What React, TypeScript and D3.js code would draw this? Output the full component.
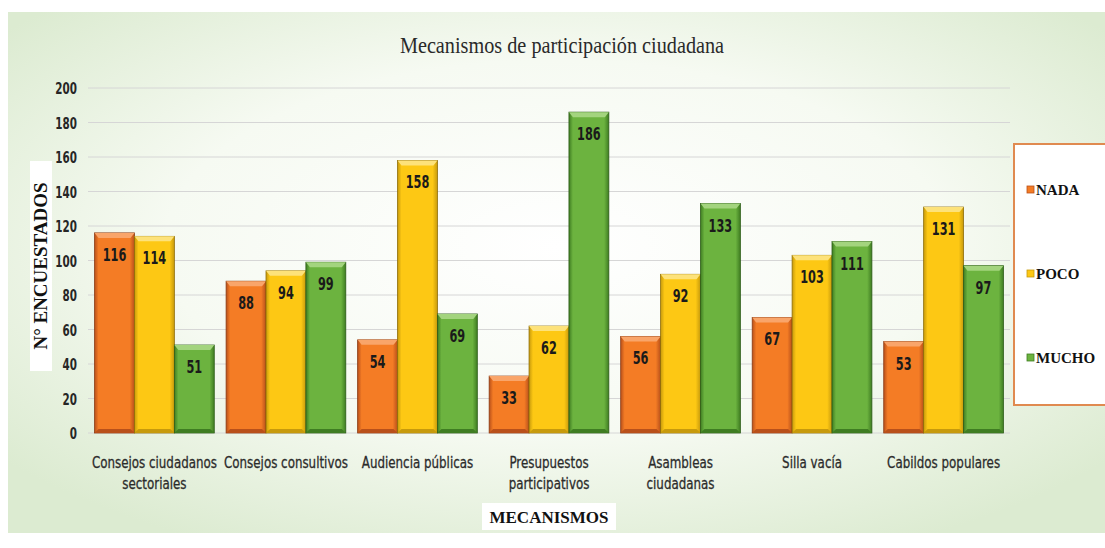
import * as d3 from "d3";

const categories = [
  ["Consejos ciudadanos", "sectoriales"],
  ["Consejos consultivos"],
  ["Audiencia públicas"],
  ["Presupuestos", "participativos"],
  ["Asambleas", "ciudadanas"],
  ["Silla vacía"],
  ["Cabildos populares"],
];
const seriesNames = ["NADA", "POCO", "MUCHO"];
const nada = [116, 88, 54, 33, 56, 67, 53];
const poco = [114, 94, 158, 62, 92, 103, 131];
const mucho = [51, 99, 69, 186, 133, 111, 97];
const yTicks = [0, 20, 40, 60, 80, 100, 120, 140, 160, 180, 200];

const W = 1105;
const H = 548;
const PLOT = { left: 88, right: 1010, top: 88, bottom: 433 };

const COLORS = [
  { base: "#f47c25", light: "#f9a56a", dark: "#b9501a", edge: "#8a3a12" },
  { base: "#fdc814", light: "#fde27a", dark: "#c79a0c", edge: "#8f6e08" },
  { base: "#6cb33f", light: "#a3d47e", dark: "#3f7d22", edge: "#2d5d18" },
];

const condensed = "'DejaVu Sans Condensed', 'DejaVu Sans', sans-serif";
const serif = "'Liberation Serif', 'DejaVu Serif', serif";

// narrow text: draws at (x, y) and squeezes horizontally
function Narrow({ x, y, sx, anchor = "middle", children, ...rest }: any) {
  return (
    <text
      transform={`translate(${x},${y}) scale(${sx},1)`}
      textAnchor={anchor}
      {...rest}
    >
      {children}
    </text>
  );
}

export default function App() {
  const keys = categories.map((c) => c.join(" "));
  const values = [nada, poco, mucho];

  const x0 = d3
    .scaleBand<string>()
    .domain(keys)
    .range([PLOT.left, PLOT.right])
    .paddingInner(0.09)
    .paddingOuter(0.05);
  const x1 = d3
    .scaleBand<number>()
    .domain([0, 1, 2])
    .range([0, x0.bandwidth()]);
  const y = d3.scaleLinear().domain([0, 200]).range([PLOT.bottom, PLOT.top]);

  return (
    <div style={{ position: "absolute", left: 0, top: 0 }}>
      <svg width={W} height={H} style={{ display: "block" }}>
        <defs>
          <radialGradient id="bg" cx="50%" cy="45%" r="65%">
            <stop offset="0%" stopColor="#ffffff" />
            <stop offset="55%" stopColor="#f6faf2" />
            <stop offset="100%" stopColor="#dcebd1" />
          </radialGradient>
          {COLORS.map((c, i) => (
            <linearGradient key={i} id={`bar${i}`} x1="0" x2="1" y1="0" y2="0">
              <stop offset="0%" stopColor={c.dark} />
              <stop offset="10%" stopColor={c.base} />
              <stop offset="88%" stopColor={c.base} />
              <stop offset="100%" stopColor={c.dark} />
            </linearGradient>
          ))}
        </defs>
        <rect x={0} y={0} width={W} height={H} fill="#ffffff" />
        <rect x={8} y={12} width={W - 8} height={521} fill="url(#bg)" />

        <Narrow
          x={562}
          y={53}
          sx={0.88}
          fontFamily={serif}
          fontSize={23}
          fill="#2a2a2a"
        >
          Mecanismos de participación ciudadana
        </Narrow>

        {yTicks.map((t) => (
          <g key={t}>
            <line
              x1={PLOT.left}
              x2={PLOT.right}
              y1={y(t)}
              y2={y(t)}
              stroke="#d6d6d6"
              strokeWidth={1}
            />
            <Narrow
              x={77}
              y={y(t) + 6}
              sx={0.72}
              anchor="end"
              fontFamily={condensed}
              fontWeight="bold"
              fontSize={16}
              fill="#262626"
            >
              {t}
            </Narrow>
          </g>
        ))}

        {keys.map((k, ci) => (
          <g key={k} transform={`translate(${x0(k)},0)`}>
            {values.map((vals, si) => {
              const v = vals[ci];
              const bx = x1(si)!;
              const bw = x1.bandwidth();
              const by = y(v);
              const bh = y(0) - by;
              const c = COLORS[si];
              return (
                <g key={si}>
                  <rect
                    x={bx}
                    y={by}
                    width={bw}
                    height={bh}
                    fill={`url(#bar${si})`}
                    stroke={c.edge}
                    strokeWidth={0.8}
                  />
                  <polygon
                    points={`${bx},${by} ${bx + bw},${by} ${bx + bw - 4},${by + 5} ${bx + 4},${by + 5}`}
                    fill={c.light}
                  />
                  <polygon
                    points={`${bx},${by + bh} ${bx + bw},${by + bh} ${bx + bw - 4},${by + bh - 4} ${bx + 4},${by + bh - 4}`}
                    fill={c.dark}
                  />
                  <Narrow
                    x={bx + bw / 2}
                    y={by + 28}
                    sx={0.7}
                    fontFamily={condensed}
                    fontWeight="bold"
                    fontSize={18}
                    fill="#1a1a1a"
                  >
                    {v}
                  </Narrow>
                </g>
              );
            })}
            {categories[ci].map((line, li) => (
              <Narrow
                key={li}
                x={x0.bandwidth() / 2}
                y={468 + li * 21}
                sx={0.8}
                fontFamily={condensed}
                fontSize={16.5}
                fill="#2b2b2b"
                stroke="#2b2b2b"
                strokeWidth={0.3}
              >
                {line}
              </Narrow>
            ))}
          </g>
        ))}

        <rect x={30} y={161} width={22} height={210} fill="#ffffff" />
        <text
          transform="translate(47,266) rotate(-90)"
          textAnchor="middle"
          fontFamily={serif}
          fontWeight="bold"
          fontSize={19}
          fill="#111"
        >
          N° ENCUESTADOS
        </text>

        <rect x={482} y={503} width={134} height={27} fill="#ffffff" />
        <text
          x={549}
          y={523}
          textAnchor="middle"
          fontFamily={serif}
          fontWeight="bold"
          fontSize={17}
          fill="#111"
        >
          MECANISMOS
        </text>

        <rect
          x={1014}
          y={144}
          width={100}
          height={261}
          fill="#ffffff"
          stroke="#e08a50"
          strokeWidth={2}
        />
        {seriesNames.map((s, i) => (
          <g key={s} transform={`translate(1027,${190 + i * 84})`}>
            <rect
              x={0}
              y={-4}
              width={7}
              height={7}
              fill={COLORS[i].base}
              stroke={COLORS[i].dark}
              strokeWidth={0.8}
            />
            <text
              x={9}
              y={0}
              dy="0.35em"
              fontFamily={serif}
              fontWeight="bold"
              fontSize={15}
              fill="#111"
            >
              {s}
            </text>
          </g>
        ))}
      </svg>
    </div>
  );
}
